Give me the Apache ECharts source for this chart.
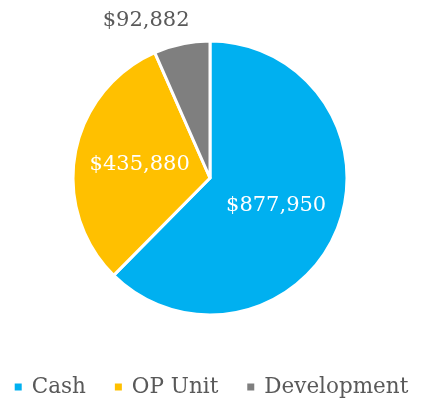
<!DOCTYPE html>
<html>
<head>
<meta charset="utf-8">
<script src="https://cdn.jsdelivr.net/npm/echarts@6/dist/echarts.min.js"></script>
<style>
  html, body { margin: 0; padding: 0; background: #fff; }
  #chart { width: 421px; height: 405px; }
</style>
</head>
<body>
<div id="chart"></div>
<script>
// data
const categories = ['Cash', 'OP Unit', 'Development']
const amounts = [877950, 435880, 92882]
const colors = ['#00B0F0', '#FFC000', '#7F7F7F']

const fontFamily = '"DejaVu Serif", "Liberation Serif", serif'

const chart = echarts.init(document.getElementById('chart'))

const pieData = categories.map((name, i) => {
  const item = { name: name, value: amounts[i], itemStyle: { color: colors[i] } }
  // the small slice keeps its label outside, above the pie
  if (i === 2) {
    item.label = { position: 'outside', color: '#595959', offset: [14, -18] }
    item.labelLine = { show: false, length: 6, length2: 0 }
  }
  return item
})

chart.setOption({
  animation: false,
  legend: {
    bottom: 2,
    left: 'center',
    icon: 'rect',
    itemWidth: 9,
    itemHeight: 9,
    itemGap: 27,
    textStyle: { fontFamily: fontFamily, fontSize: 21.5, color: '#595959', padding: [0, 0, 0, 4] },
    data: categories
  },
  series: [
    {
      type: 'pie',
      center: [210, 178],
      radius: [0, 137],
      startAngle: 90,
      clockwise: true,
      itemStyle: { borderColor: '#fff', borderWidth: 3 },
      label: {
        show: true,
        position: 'inside',
        color: '#fff',
        fontFamily: fontFamily,
        fontSize: 21,
        formatter: (p) => '$' + p.value.toLocaleString('en-US')
      },
      data: pieData
    }
  ]
})
</script>
</body>
</html>
